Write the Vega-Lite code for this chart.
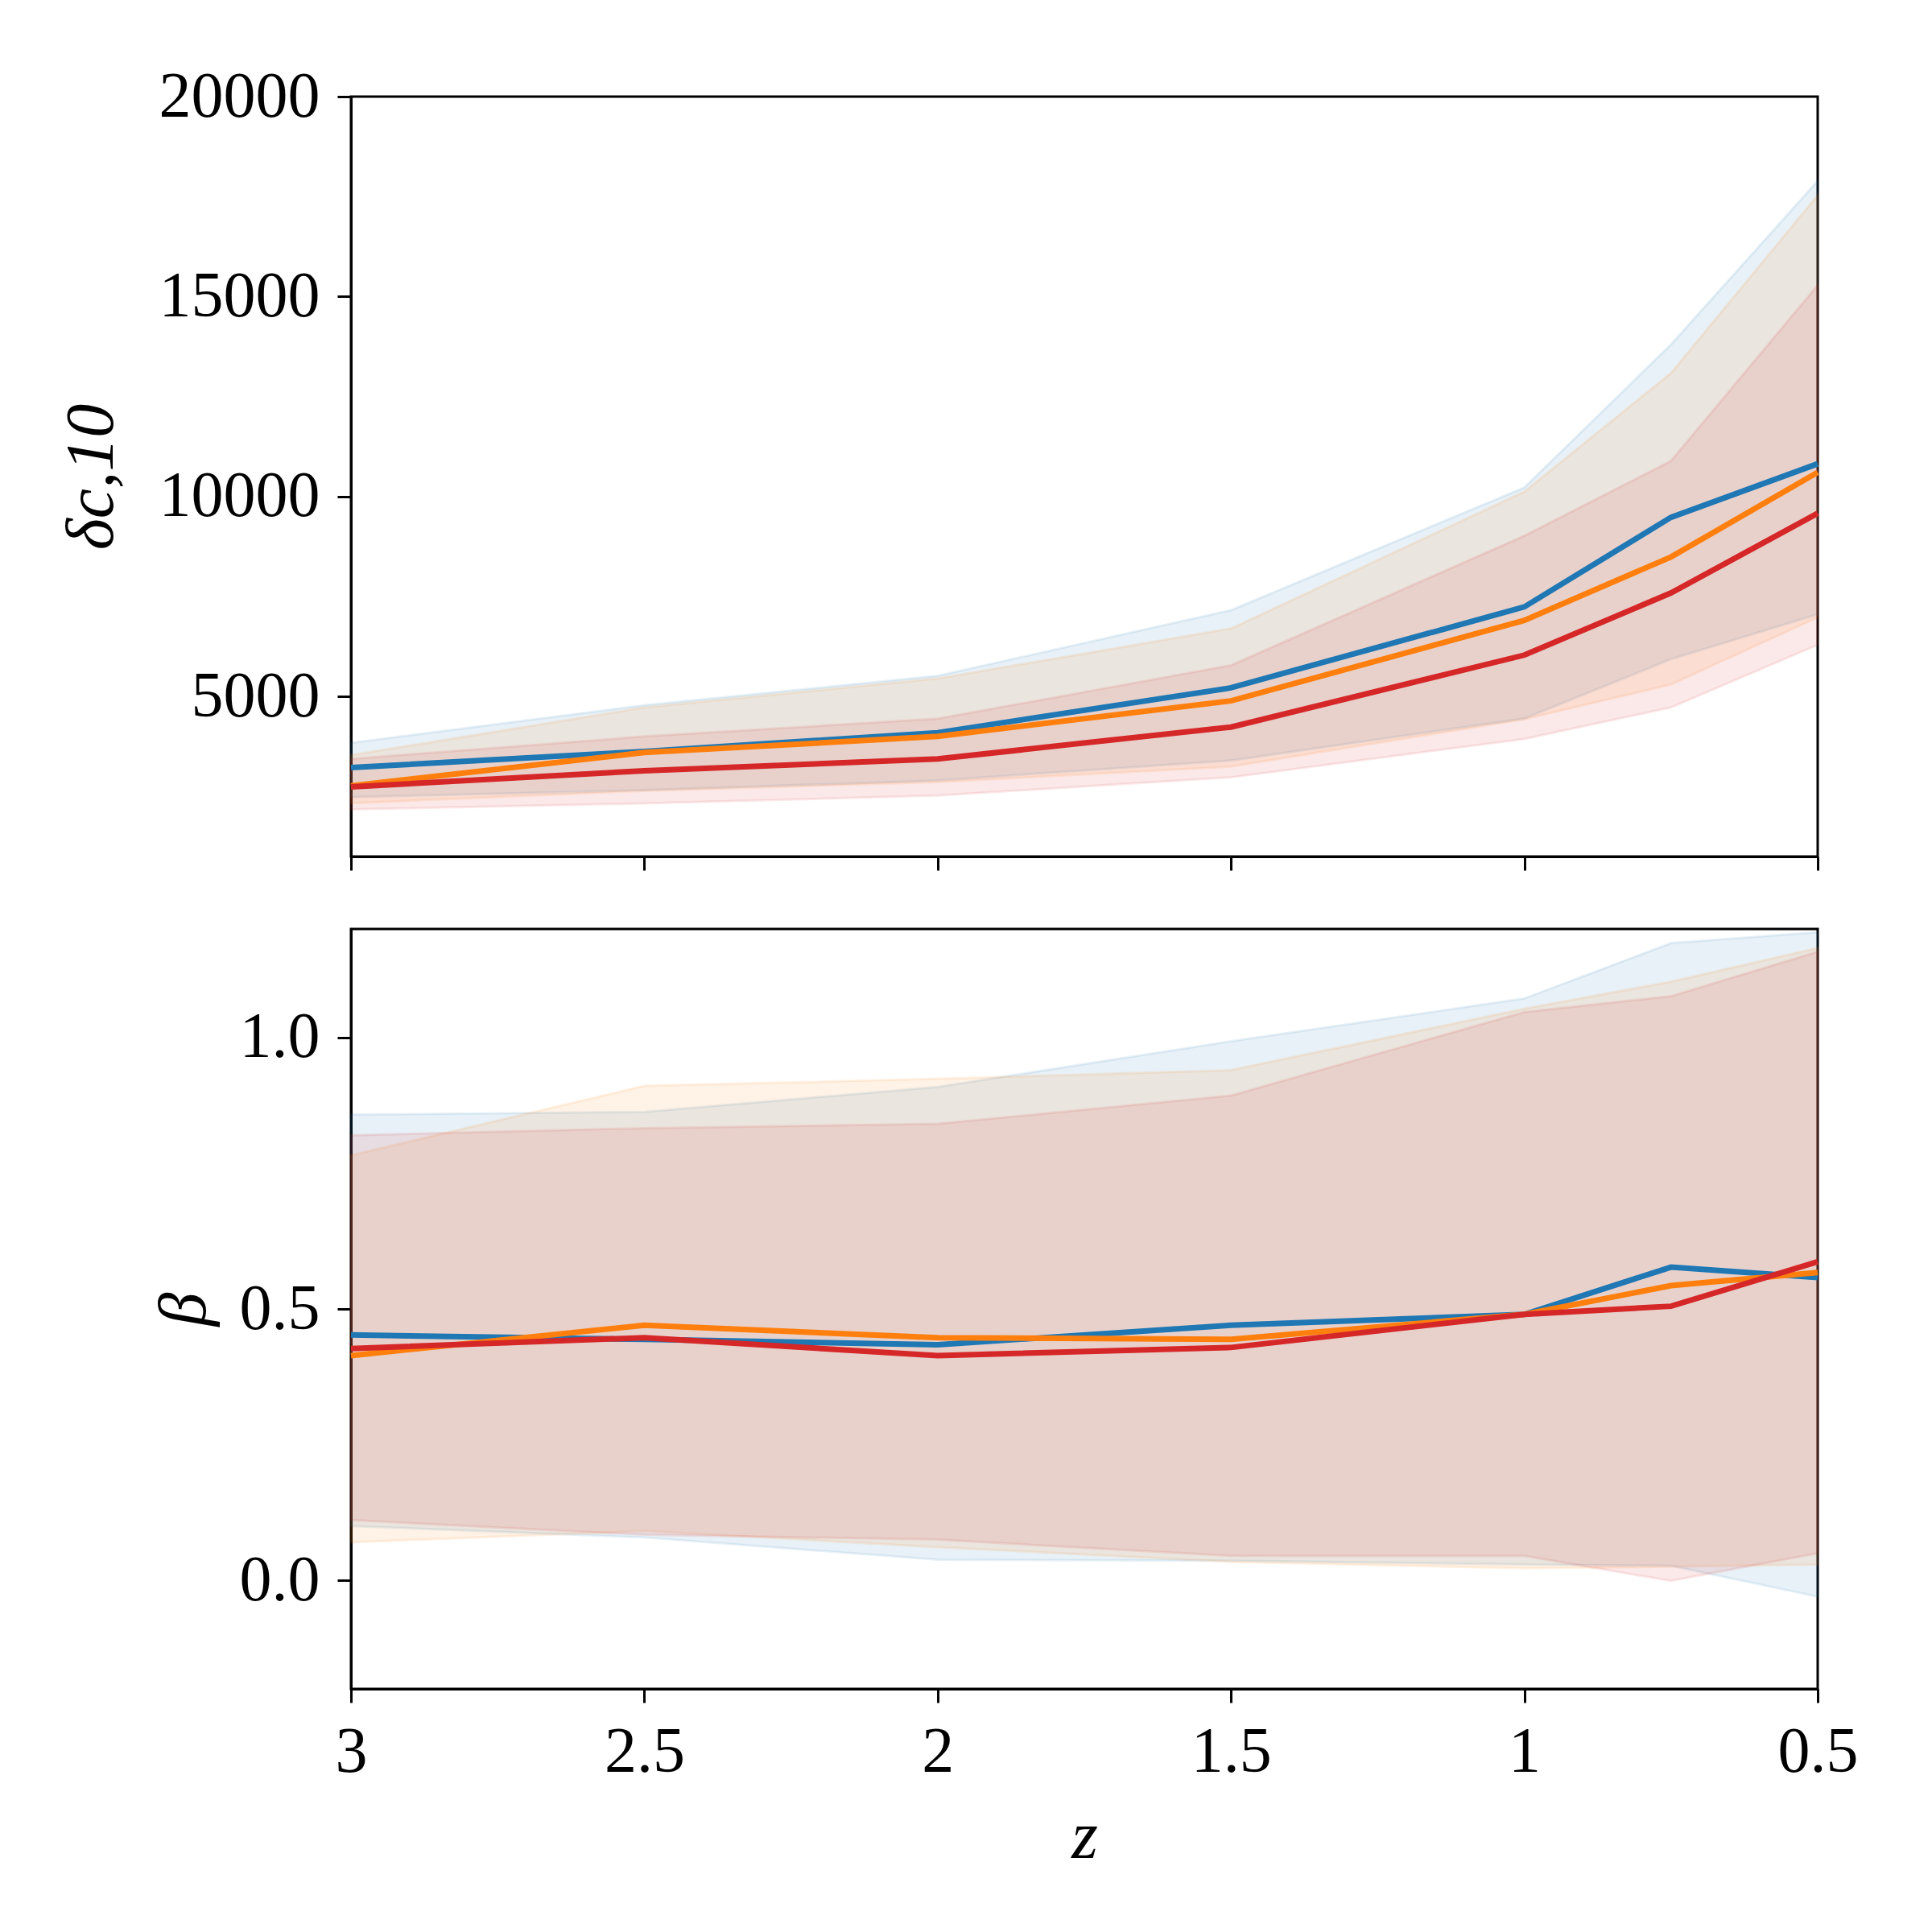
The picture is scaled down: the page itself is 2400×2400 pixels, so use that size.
{
  "$schema": "https://vega.github.io/schema/vega-lite/v6.json",
  "background": "white",
  "padding": {"left": 70, "top": 78, "right": 40, "bottom": 40},
  "datasets": {
    "delta": [
      {"s": "1", "z": 3, "mid": 3225, "lo": 2486, "hi": 3842},
      {"s": "1", "z": 2.5, "mid": 3628, "lo": 2660, "hi": 4782},
      {"s": "1", "z": 2, "mid": 4097, "lo": 2903, "hi": 5519},
      {"s": "1", "z": 1.5, "mid": 5218, "lo": 3400, "hi": 7160},
      {"s": "1", "z": 1, "mid": 7242, "lo": 4451, "hi": 10226},
      {"s": "1", "z": 0.75, "mid": 9481, "lo": 5934, "hi": 13804},
      {"s": "1", "z": 0.5, "mid": 10819, "lo": 7057, "hi": 17893},
      {"s": "2", "z": 3, "mid": 2768, "lo": 2334, "hi": 3534},
      {"s": "2", "z": 2.5, "mid": 3600, "lo": 2640, "hi": 4728},
      {"s": "2", "z": 2, "mid": 4002, "lo": 2860, "hi": 5451},
      {"s": "2", "z": 1.5, "mid": 4892, "lo": 3250, "hi": 6700},
      {"s": "2", "z": 1, "mid": 6905, "lo": 4430, "hi": 10124},
      {"s": "2", "z": 0.75, "mid": 8490, "lo": 5300, "hi": 13089},
      {"s": "2", "z": 0.5, "mid": 10605, "lo": 6977, "hi": 17534},
      {"s": "3", "z": 3, "mid": 2742, "lo": 2178, "hi": 3440},
      {"s": "3", "z": 2.5, "mid": 3145, "lo": 2326, "hi": 4002},
      {"s": "3", "z": 2, "mid": 3440, "lo": 2526, "hi": 4445},
      {"s": "3", "z": 1.5, "mid": 4237, "lo": 2980, "hi": 5781},
      {"s": "3", "z": 1, "mid": 6036, "lo": 3940, "hi": 9020},
      {"s": "3", "z": 0.75, "mid": 7590, "lo": 4727, "hi": 10891},
      {"s": "3", "z": 0.5, "mid": 9583, "lo": 6292, "hi": 15286}
    ],
    "beta": [
      {"s": "1", "z": 3, "mid": 0.452, "lo": 0.100, "hi": 0.858},
      {"s": "1", "z": 2.5, "mid": 0.444, "lo": 0.079, "hi": 0.863},
      {"s": "1", "z": 2, "mid": 0.434, "lo": 0.038, "hi": 0.909},
      {"s": "1", "z": 1.5, "mid": 0.470, "lo": 0.036, "hi": 0.993},
      {"s": "1", "z": 1, "mid": 0.490, "lo": 0.029, "hi": 1.072},
      {"s": "1", "z": 0.75, "mid": 0.577, "lo": 0.027, "hi": 1.174},
      {"s": "1", "z": 0.5, "mid": 0.558, "lo": -0.030, "hi": 1.194},
      {"s": "2", "z": 3, "mid": 0.414, "lo": 0.070, "hi": 0.783},
      {"s": "2", "z": 2.5, "mid": 0.470, "lo": 0.091, "hi": 0.911},
      {"s": "2", "z": 2, "mid": 0.447, "lo": 0.061, "hi": 0.924},
      {"s": "2", "z": 1.5, "mid": 0.444, "lo": 0.034, "hi": 0.940},
      {"s": "2", "z": 1, "mid": 0.490, "lo": 0.022, "hi": 1.053},
      {"s": "2", "z": 0.75, "mid": 0.543, "lo": 0.025, "hi": 1.103},
      {"s": "2", "z": 0.5, "mid": 0.567, "lo": 0.029, "hi": 1.165},
      {"s": "3", "z": 3, "mid": 0.427, "lo": 0.111, "hi": 0.820},
      {"s": "3", "z": 2.5, "mid": 0.447, "lo": 0.084, "hi": 0.833},
      {"s": "3", "z": 2, "mid": 0.414, "lo": 0.075, "hi": 0.841},
      {"s": "3", "z": 1.5, "mid": 0.429, "lo": 0.045, "hi": 0.893},
      {"s": "3", "z": 1, "mid": 0.490, "lo": 0.045, "hi": 1.047},
      {"s": "3", "z": 0.75, "mid": 0.505, "lo": -0.001, "hi": 1.076},
      {"s": "3", "z": 0.5, "mid": 0.587, "lo": 0.050, "hi": 1.158}
    ]
  },
  "vconcat": [
    {
      "width": 1822,
      "height": 944,
      "data": {"name": "delta"},
      "encoding": {
        "x": {
          "field": "z", "type": "quantitative",
          "scale": {"domain": [0.5, 3], "reverse": true, "nice": false, "zero": false},
          "axis": {"values": [0.5, 1, 1.5, 2, 2.5, 3], "labels": false, "title": null}
        },
        "color": {
          "field": "s", "type": "nominal", "legend": null,
          "scale": {"domain": ["1", "2", "3"], "range": ["#1f77b4", "#ff7f0e", "#d62728"]}
        }
      },
      "layer": [
        {
          "mark": {"type": "area", "fillOpacity": 0.1, "strokeOpacity": 0.1, "strokeWidth": 3},
          "encoding": {
            "y": {"field": "lo", "type": "quantitative"},
            "y2": {"field": "hi"},
            "stroke": {"field": "s", "type": "nominal", "legend": null,
              "scale": {"domain": ["1", "2", "3"], "range": ["#1f77b4", "#ff7f0e", "#d62728"]}}
          }
        },
        {
          "mark": {"type": "line", "strokeWidth": 7},
          "encoding": {
            "y": {
              "field": "mid", "type": "quantitative",
              "scale": {"domain": [1000, 20000], "nice": false, "zero": false},
              "axis": {"values": [5000, 10000, 15000, 20000], "format": "d", "title": "δc,10", "titlePadding": 79}
            }
          }
        }
      ]
    },
    {
      "width": 1822,
      "height": 944,
      "data": {"name": "beta"},
      "encoding": {
        "x": {
          "field": "z", "type": "quantitative",
          "scale": {"domain": [0.5, 3], "reverse": true, "nice": false, "zero": false},
          "axis": {"values": [0.5, 1, 1.5, 2, 2.5, 3], "format": "~g", "title": "z"}
        },
        "color": {
          "field": "s", "type": "nominal", "legend": null,
          "scale": {"domain": ["1", "2", "3"], "range": ["#1f77b4", "#ff7f0e", "#d62728"]}
        }
      },
      "layer": [
        {
          "mark": {"type": "area", "fillOpacity": 0.1, "strokeOpacity": 0.1, "strokeWidth": 3},
          "encoding": {
            "y": {"field": "lo", "type": "quantitative"},
            "y2": {"field": "hi"},
            "stroke": {"field": "s", "type": "nominal", "legend": null,
              "scale": {"domain": ["1", "2", "3"], "range": ["#1f77b4", "#ff7f0e", "#d62728"]}}
          }
        },
        {
          "mark": {"type": "line", "strokeWidth": 7},
          "encoding": {
            "y": {
              "field": "mid", "type": "quantitative",
              "scale": {"domain": [-0.2, 1.2], "nice": false, "zero": false},
              "axis": {"values": [0, 0.5, 1], "format": ".1f", "title": "β"}
            }
          }
        }
      ]
    }
  ],
  "spacing": 66,
  "config": {
    "view": {"stroke": "black", "strokeWidth": 3},
    "axis": {
      "grid": false,
      "domainColor": "black",
      "domainWidth": 3,
      "tickColor": "black",
      "tickWidth": 3,
      "tickSize": 17,
      "labelFont": "Liberation Serif",
      "labelFontSize": 80,
      "labelColor": "black",
      "labelPadding": 22,
      "labelLimit": 0,
      "labelFlush": false,
      "labelOverlap": false,
      "titleFont": "Liberation Serif",
      "titleFontSize": 84,
      "titleFontStyle": "italic",
      "titleFontWeight": "normal",
      "titleColor": "black",
      "titlePadding": 25
    }
  }
}
